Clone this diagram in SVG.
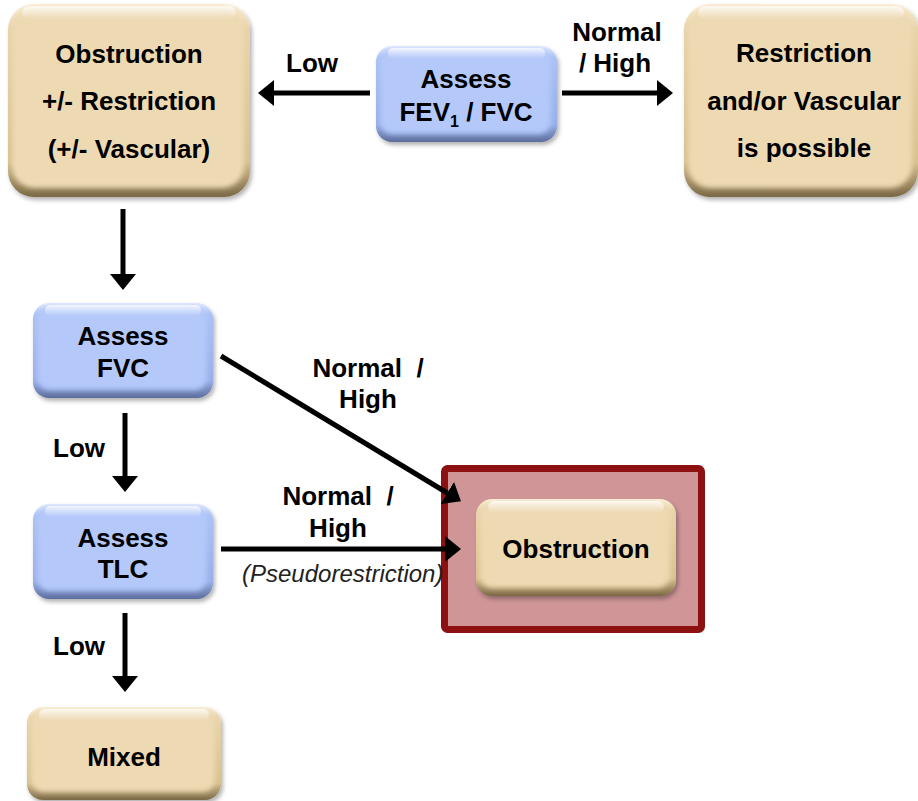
<svg xmlns="http://www.w3.org/2000/svg" width="918" height="801" viewBox="0 0 918 801">
<defs>
  <linearGradient id="tanEdge" x1="0" y1="0" x2="0" y2="1">
    <stop offset="0" stop-color="#FAEFD8"/>
    <stop offset="0.12" stop-color="#E9D4AA"/>
    <stop offset="0.82" stop-color="#D8C190"/>
    <stop offset="1" stop-color="#7A6845"/>
  </linearGradient>
  <linearGradient id="blueEdge" x1="0" y1="0" x2="0" y2="1">
    <stop offset="0" stop-color="#E2EAFF"/>
    <stop offset="0.12" stop-color="#ABC1F5"/>
    <stop offset="0.82" stop-color="#98AEE8"/>
    <stop offset="1" stop-color="#5B6D9C"/>
  </linearGradient>
  <linearGradient id="hl" x1="0" y1="0" x2="0" y2="1">
    <stop offset="0" stop-color="#FFFFFF" stop-opacity="0.75"/>
    <stop offset="1" stop-color="#FFFFFF" stop-opacity="0"/>
  </linearGradient>
  <filter id="shadow" x="-10%" y="-10%" width="125%" height="130%">
    <feDropShadow dx="2" dy="3" stdDeviation="2" flood-color="#000" flood-opacity="0.3"/>
  </filter>
  <filter id="soft" x="-10%" y="-10%" width="120%" height="120%">
    <feGaussianBlur stdDeviation="2.5"/>
  </filter>
  <marker id="ah" markerUnits="userSpaceOnUse" viewBox="0 0 16 26" markerWidth="16" markerHeight="26" refX="2" refY="13" orient="auto">
    <path d="M0,0 L16,13 L0,26 Z" fill="#000"/>
  </marker>
  <style>
    .t { font-family: "Liberation Sans", Arial, sans-serif; font-weight: bold; font-size: 26px; fill: #000; text-anchor: middle; }
    .ts { text-anchor: start; }
    .it { font-family: "Liberation Sans", Arial, sans-serif; font-style: italic; font-size: 24px; fill: #222; }
    .tanE { fill: url(#tanEdge); }
    .tanB { fill: #EDD9B2; }
    .bluE { fill: url(#blueEdge); }
    .bluB { fill: #B4C8FA; }
    .hl { fill: url(#hl); }
    .c { stroke: #000; stroke-width: 5; fill: none; marker-end: url(#ah); }
  </style>
</defs>

<g id="n-obs-restr">
  <rect class="tanE" x="8" y="4" width="242" height="193" rx="26" filter="url(#shadow)"/>
  <rect class="tanB" x="12" y="8" width="232" height="180" rx="22" filter="url(#soft)"/>
  <rect class="hl" x="22" y="6" width="214" height="14" rx="7"/>
  <text class="t" x="129" y="63">Obstruction</text>
  <text class="t" x="129" y="110">+/- Restriction</text>
  <text class="t" x="129" y="158">(+/- Vascular)</text>
</g>

<g id="n-fev">
  <rect class="bluE" x="376" y="46" width="181" height="96" rx="16" filter="url(#shadow)"/>
  <rect class="bluB" x="380" y="50" width="171" height="84" rx="13" filter="url(#soft)"/>
  <rect class="hl" x="388" y="48" width="157" height="11" rx="5"/>
  <text class="t" x="466" y="88">Assess</text>
  <text class="t" x="466" y="121">FEV<tspan font-size="16" dy="6">1</tspan><tspan dy="-6"> / FVC</tspan></text>
</g>

<g id="n-restr">
  <rect class="tanE" x="684" y="4" width="234" height="193" rx="26" filter="url(#shadow)"/>
  <rect class="tanB" x="688" y="8" width="224" height="180" rx="22" filter="url(#soft)"/>
  <rect class="hl" x="698" y="6" width="206" height="14" rx="7"/>
  <text class="t" x="804" y="62">Restriction</text>
  <text class="t" x="804" y="110">and/or Vascular</text>
  <text class="t" x="804" y="157">is possible</text>
</g>

<g id="n-fvc">
  <rect class="bluE" x="33" y="303" width="180" height="95" rx="16" filter="url(#shadow)"/>
  <rect class="bluB" x="37" y="307" width="170" height="83" rx="13" filter="url(#soft)"/>
  <rect class="hl" x="45" y="305" width="156" height="11" rx="5"/>
  <text class="t" x="123" y="345">Assess</text>
  <text class="t" x="123" y="377">FVC</text>
</g>

<g id="n-tlc">
  <rect class="bluE" x="33" y="504" width="180" height="95" rx="16" filter="url(#shadow)"/>
  <rect class="bluB" x="37" y="508" width="170" height="83" rx="13" filter="url(#soft)"/>
  <rect class="hl" x="45" y="506" width="156" height="11" rx="5"/>
  <text class="t" x="123" y="547">Assess</text>
  <text class="t" x="123" y="578">TLC</text>
</g>

<g id="n-obstruction">
  <rect x="444.5" y="468.5" width="257" height="161" rx="3" fill="#CF9597" stroke="#8E1111" stroke-width="7"/>
  <rect class="tanE" x="476" y="499" width="200" height="97" rx="16" filter="url(#shadow)"/>
  <rect class="tanB" x="480" y="503" width="190" height="85" rx="13" filter="url(#soft)"/>
  <rect class="hl" x="488" y="501" width="176" height="12" rx="6"/>
  <text class="t" x="576" y="558">Obstruction</text>
</g>

<g id="n-mixed">
  <rect class="tanE" x="27" y="707" width="194" height="93" rx="16" filter="url(#shadow)"/>
  <rect class="tanB" x="31" y="711" width="184" height="81" rx="13" filter="url(#soft)"/>
  <rect class="hl" x="39" y="709" width="170" height="12" rx="6"/>
  <text class="t" x="124" y="766">Mixed</text>
</g>

<g id="connectors">
  <line class="c" x1="370" y1="93" x2="272" y2="93"/>
  <line class="c" x1="562" y1="93" x2="659" y2="93"/>
  <line class="c" x1="123" y1="209" x2="123" y2="276"/>
  <line class="c" x1="125" y1="413" x2="125" y2="478"/>
  <line class="c" x1="125" y1="613" x2="125" y2="678"/>
  <line class="c" x1="221" y1="356" x2="449" y2="494"/>
  <line class="c" x1="221" y1="549" x2="447" y2="549"/>
</g>

<g id="labels">
  <text class="t" x="312" y="72">Low</text>
  <text class="t" x="617" y="41">Normal</text>
  <text class="t" x="615" y="72">/ High</text>
  <text class="t" x="368" y="377" xml:space="preserve">Normal  /</text>
  <text class="t" x="368" y="408">High</text>
  <text class="t" x="338" y="505" xml:space="preserve">Normal  /</text>
  <text class="t" x="338" y="537">High</text>
  <text class="it" x="242" y="582">(Pseudorestriction)</text>
  <text class="t ts" x="53" y="457">Low</text>
  <text class="t ts" x="53" y="655">Low</text>
</g>
</svg>
